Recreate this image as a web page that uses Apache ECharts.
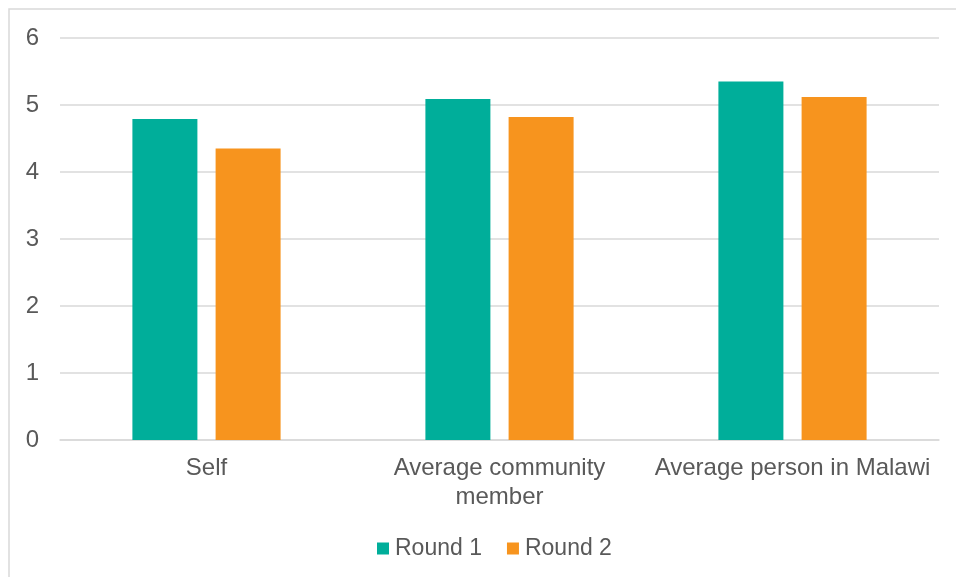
<!DOCTYPE html>
<html>
<head>
<meta charset="utf-8">
<script src="https://cdn.jsdelivr.net/npm/echarts@6/dist/echarts.min.js"></script>
<style>
  html, body { margin: 0; padding: 0; background: #fff; }
  #chart { width: 956px; height: 577px; }
</style>
</head>
<body>
<div id="chart"></div>
<script>
// Perceived scores by reference group, two survey rounds
const categories = ['Self', 'Average community\nmember', 'Average person in Malawi'];
const round1 = [4.79, 5.09, 5.35];
const round2 = [4.35, 4.82, 5.12];
const seriesNames = ['Round 1', 'Round 2'];

const textColor = '#595959';
const font = 'Liberation Sans, Arial, sans-serif';

const chart = echarts.init(document.getElementById('chart'), null, { renderer: 'canvas' });
chart.setOption({
  animation: false,
  backgroundColor: '#fff',
  graphic: [{
    type: 'rect',
    shape: { x: 9, y: 9, width: 980, height: 600 },
    style: { fill: 'none', stroke: '#d9d9d9', lineWidth: 1.5 },
    silent: true
  }],
  grid: { left: 60, right: 17, top: 38, bottom: 137, containLabel: false },
  legend: {
    top: 532,
    left: 372,
    itemWidth: 12,
    itemHeight: 12,
    itemGap: 25,
    icon: 'rect',
    textStyle: { color: textColor, fontSize: 23, fontFamily: font, padding: [0, 0, 0, 1] },
    data: seriesNames
  },
  xAxis: {
    type: 'category',
    data: categories,
    axisLine: { show: true, lineStyle: { color: '#d9d9d9', width: 1.5 } },
    axisTick: { show: false },
    axisLabel: { color: textColor, fontSize: 24, fontFamily: font, margin: 14, lineHeight: 29, interval: 0 }
  },
  yAxis: {
    type: 'value',
    min: 0,
    max: 6,
    interval: 1,
    axisLine: { show: false },
    axisTick: { show: false },
    axisLabel: { color: textColor, fontSize: 24, fontFamily: font, margin: 21 },
    splitLine: { lineStyle: { color: '#d9d9d9', width: 1.5 } }
  },
  series: [
    {
      name: seriesNames[0],
      type: 'bar',
      data: round1,
      barWidth: 65,
      barGap: '28%',
      itemStyle: { color: '#00AE9A' }
    },
    {
      name: seriesNames[1],
      type: 'bar',
      data: round2,
      barWidth: 65,
      itemStyle: { color: '#F7941E' }
    }
  ]
});
</script>
</body>
</html>
